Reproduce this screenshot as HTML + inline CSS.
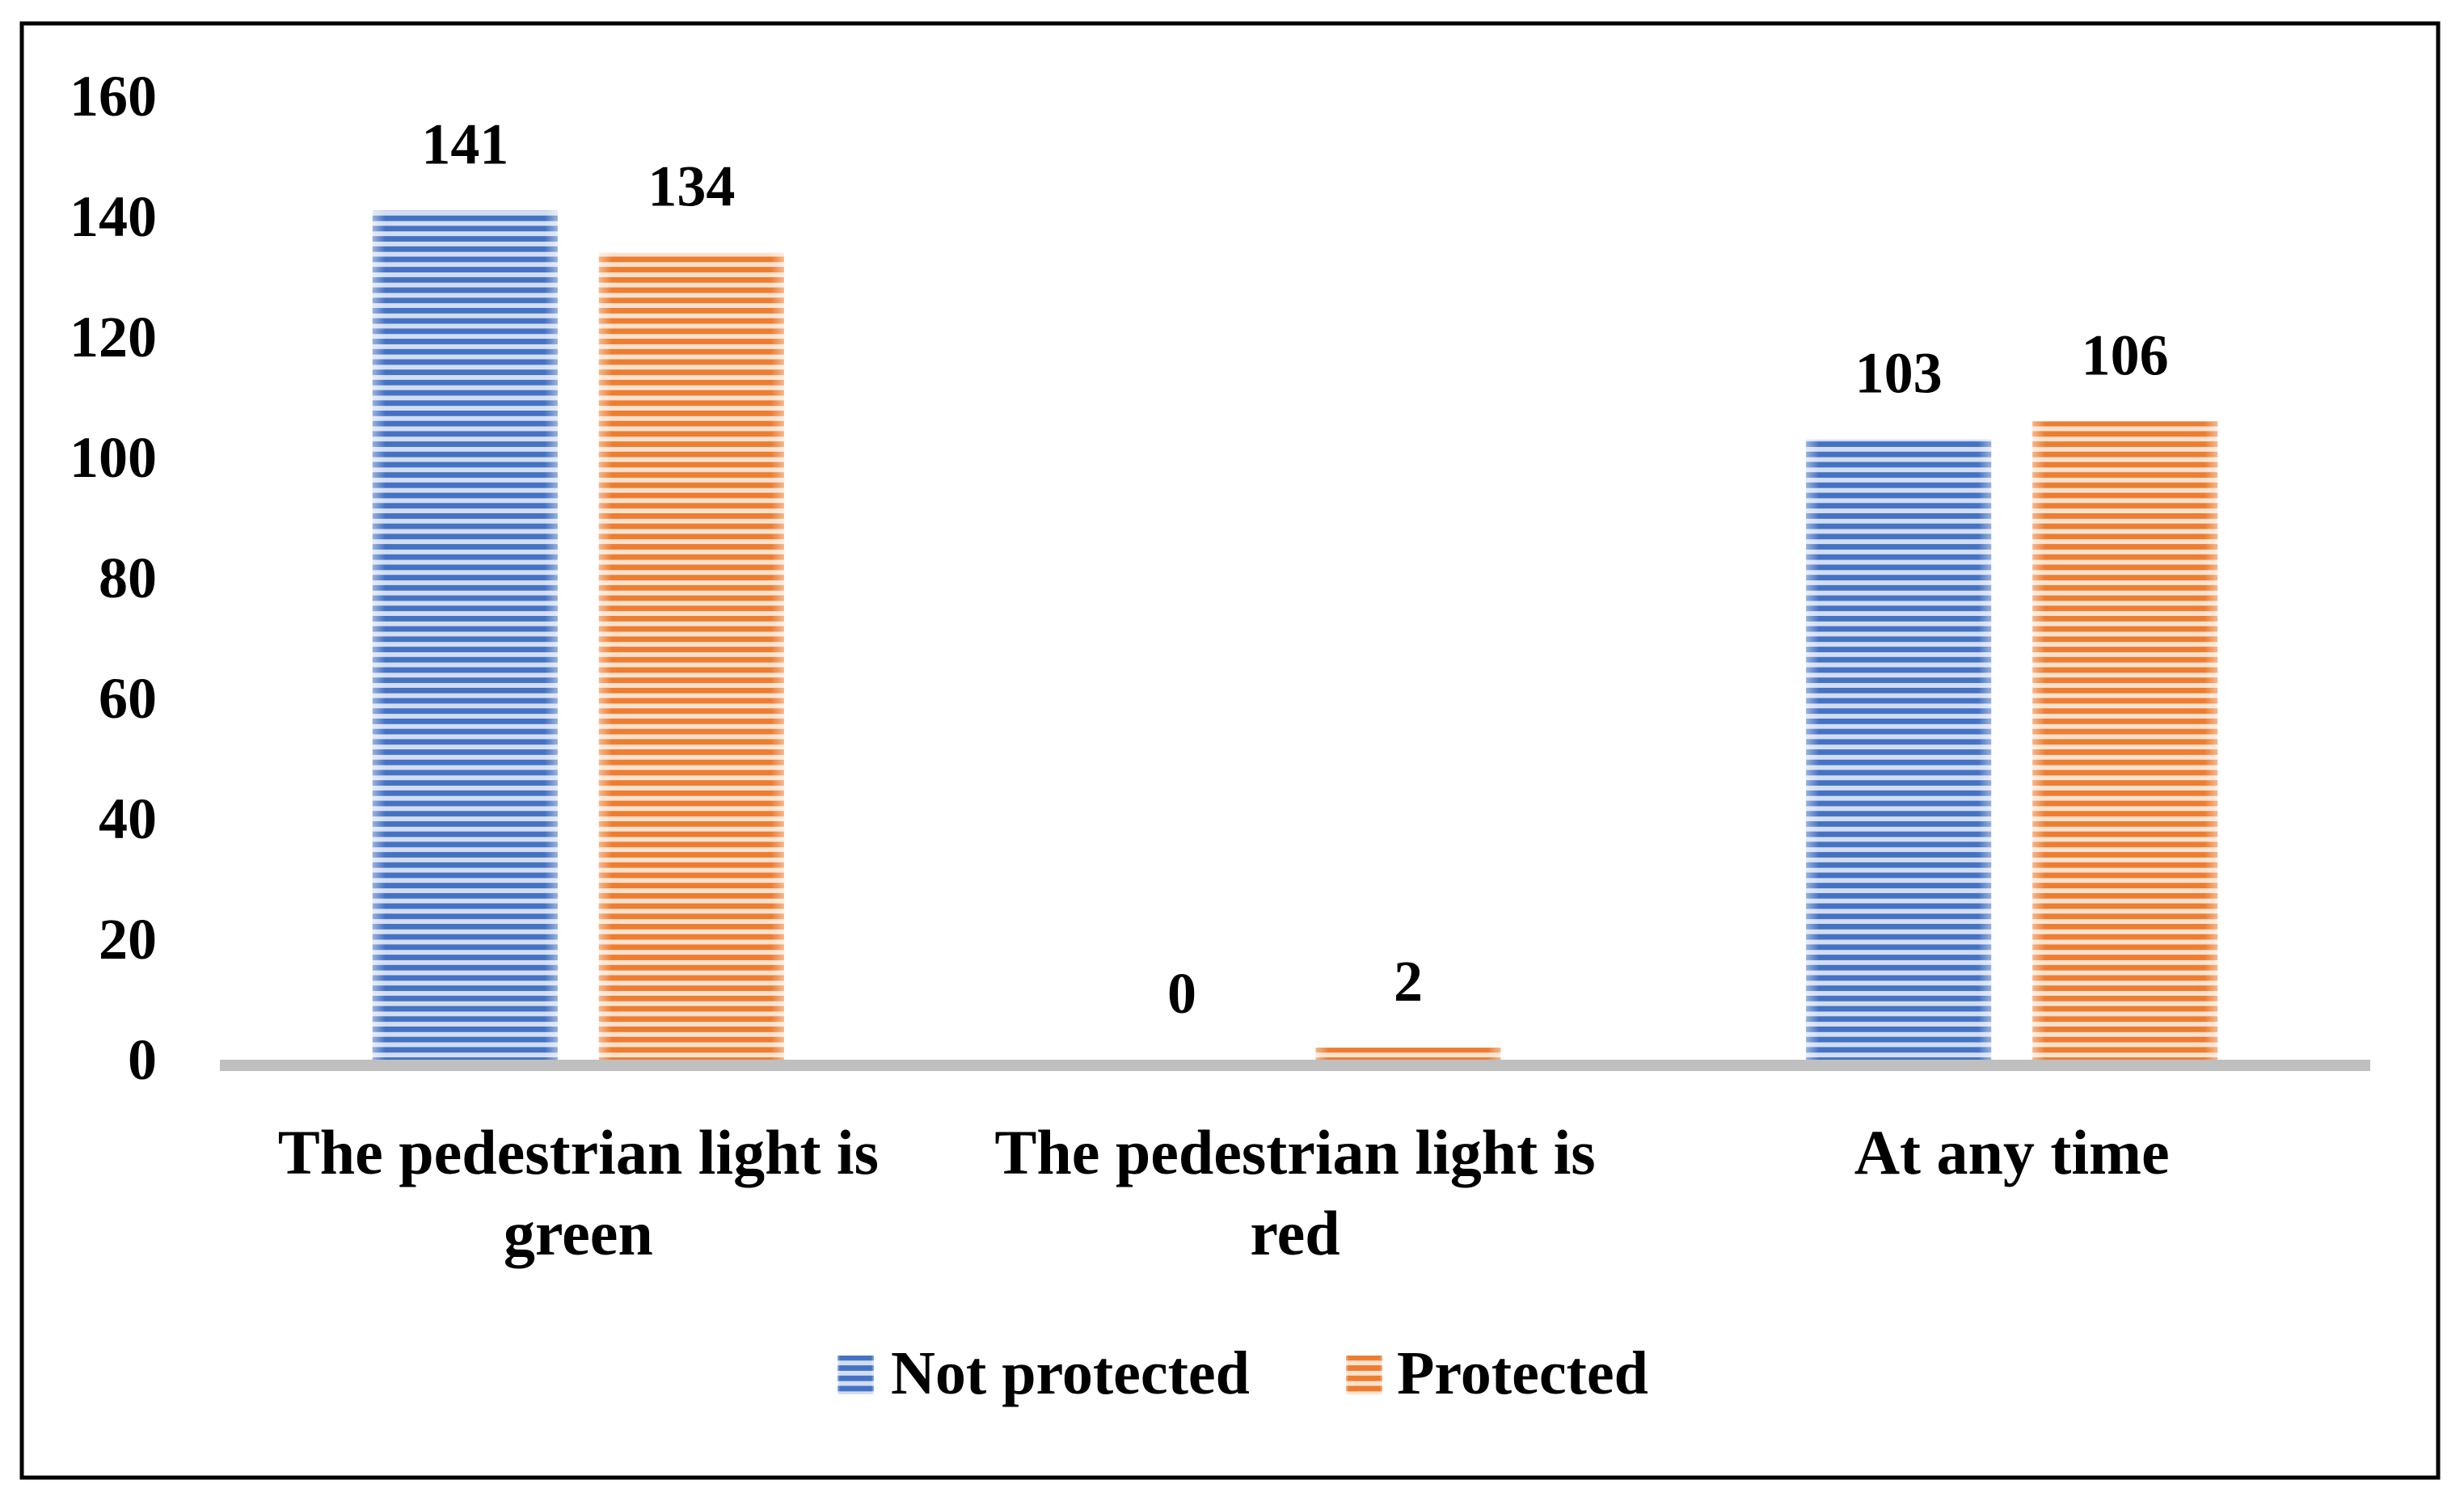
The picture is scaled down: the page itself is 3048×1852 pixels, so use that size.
<!DOCTYPE html>
<html>
<head>
<meta charset="utf-8">
<style>
  html,body{margin:0;padding:0;background:#fff;}
  body{width:3048px;height:1852px;overflow:hidden;}
  svg{display:block;}
  text{font-family:"Liberation Serif",serif;font-weight:bold;fill:#000;}
</style>
</head>
<body>
<svg id="chart" width="3048" height="1852" viewBox="0 0 3048 1852" xmlns="http://www.w3.org/2000/svg">
  <defs>
    <pattern id="stripe-blue" patternUnits="userSpaceOnUse" width="20" height="12.7">
      <rect x="0" y="0" width="20" height="12.7" fill="#d3ddf1"/>
      <rect x="0" y="0" width="20" height="6.8" fill="#4472c4"/>
    </pattern>
    <pattern id="stripe-orange" patternUnits="userSpaceOnUse" width="20" height="12.7">
      <rect x="0" y="0" width="20" height="12.7" fill="#fbe1cd"/>
      <rect x="0" y="0" width="20" height="6.8" fill="#ed7d31"/>
    </pattern>
    <linearGradient id="edge-fade" x1="0" x2="1" y1="0" y2="0">
      <stop offset="0" stop-color="#fff" stop-opacity="0.45"/>
      <stop offset="0.07" stop-color="#fff" stop-opacity="0"/>
      <stop offset="0.93" stop-color="#fff" stop-opacity="0"/>
      <stop offset="1" stop-color="#fff" stop-opacity="0.45"/>
    </linearGradient>
  </defs>
  <rect x="27" y="29" width="2989" height="1799" fill="none" stroke="#000" stroke-width="5"/>
  <g id="y-axis"></g>
  <g id="bars"></g>
  <rect x="272" y="1311" width="2660" height="14" fill="#bfbfbf"/>
  <g id="labels"></g>
  <g id="x-axis"></g>
  <g>
    <g>
      <rect x="1036" y="1677" width="45" height="48" fill="url(#stripe-blue)"/>
      <rect x="1036" y="1677" width="45" height="48" fill="url(#edge-fade)"/>
      <text x="1102" y="1724" font-size="76">Not protected</text>
    </g>
    <g>
      <rect x="1665" y="1677" width="45" height="48" fill="url(#stripe-orange)"/>
      <rect x="1665" y="1677" width="45" height="48" fill="url(#edge-fade)"/>
      <text x="1728" y="1724" font-size="76">Protected</text>
    </g>
  </g>
</svg>
<script>
const categories = [["The pedestrian light is","green"],["The pedestrian light is","red"],["At any time"]];
const notProtected = [141, 0, 103];
const protectedVals = [134, 2, 106];
const yTicks = [0, 20, 40, 60, 80, 100, 120, 140, 160];

const NS = "http://www.w3.org/2000/svg";
const plotLeft = 272, plotRight = 2932, baseY = 1311, pxPerUnit = 7.45;
const barW = 229, gap = 51;
function yScale(v){ return baseY - v * pxPerUnit; }
function xCenter(i){ const w = (plotRight - plotLeft) / categories.length; return plotLeft + w * (i + 0.5); }
function mk(tag, attrs){ const e = document.createElementNS(NS, tag); for (const k in attrs) e.setAttribute(k, attrs[k]); return e; }

const yAxis = document.getElementById('y-axis');
yTicks.forEach(t => {
  const tx = mk('text', {x: 194, y: yScale(t) + 24, 'font-size': 72, 'text-anchor': 'end'});
  
  
  tx.textContent = t;
  yAxis.appendChild(tx);
});

const barsG = document.getElementById('bars');
const labelsG = document.getElementById('labels');
const series = [{vals: notProtected, fill: 'url(#stripe-blue)', name: 'not-protected', off: -gap/2 - barW},
                {vals: protectedVals, fill: 'url(#stripe-orange)', name: 'protected', off: gap/2}];
series.forEach(s => {
  s.vals.forEach((v, i) => {
    const x = xCenter(i) + s.off;
    const top = yScale(v);
    const h = baseY - top;
    if (h > 0) {
      const r = mk('rect', {x: x, y: top, width: barW, height: h, fill: s.fill});
      
      
      barsG.appendChild(r);
      const f = mk('rect', {x: x, y: top, width: barW, height: h, fill: 'url(#edge-fade)'});
      
      
      barsG.appendChild(f);
    }
    const lbl = mk('text', {x: x + barW/2, y: top - 58, 'font-size': 72, 'text-anchor': 'middle'});
    
    
    lbl.textContent = v;
    labelsG.appendChild(lbl);
  });
});

const xAxis = document.getElementById('x-axis');
categories.forEach((lines, i) => {
  lines.forEach((ln, j) => {
    const tx = mk('text', {x: xCenter(i), y: 1452 + j * 100, 'font-size': 78, 'text-anchor': 'middle'});
    
    
    tx.textContent = ln;
    xAxis.appendChild(tx);
  });
});
</script>
</body>
</html>
